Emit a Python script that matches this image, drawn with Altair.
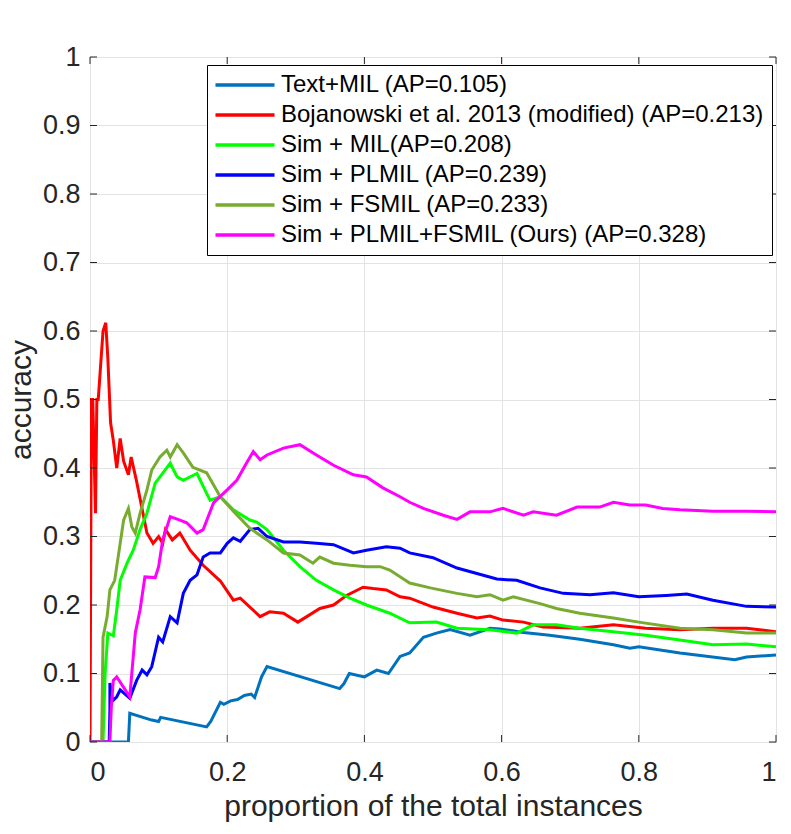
import altair as alt
import pandas as pd

LABELS = [
    "Text+MIL (AP=0.105)",
    "Bojanowski et al. 2013 (modified) (AP=0.213)",
    "Sim + MIL(AP=0.208)",
    "Sim + PLMIL (AP=0.239)",
    "Sim + FSMIL (AP=0.233)",
    "Sim + PLMIL+FSMIL (Ours) (AP=0.328)",
]
COLORS = ["#0072BD", "#FF0000", "#00FF00", "#0000FF", "#77AC30", "#FF00FF"]

text_x = [0, 0.056, 0.058, 0.09, 0.1, 0.103, 0.17, 0.176, 0.19, 0.195, 0.205, 0.215, 0.225, 0.235, 0.24, 0.25, 0.258,
          0.364, 0.37, 0.378, 0.40, 0.418, 0.435, 0.452, 0.466, 0.486, 0.505, 0.525, 0.554, 0.583, 0.598, 0.632, 0.67,
          0.714, 0.763, 0.787, 0.80, 0.86, 0.94, 0.957, 1.0]
text_y = [0, 0, 0.042, 0.032, 0.03, 0.036, 0.022, 0.03, 0.058, 0.055, 0.06, 0.062, 0.068, 0.07, 0.065, 0.095, 0.11,
          0.078, 0.085, 0.1, 0.095, 0.105, 0.1, 0.125, 0.13, 0.153, 0.159, 0.164, 0.156, 0.166, 0.165, 0.16, 0.156,
          0.15, 0.142, 0.137, 0.139, 0.13, 0.12, 0.124, 0.127]

boj_x = [0, 0.002, 0.004, 0.008, 0.010, 0.012, 0.015, 0.019, 0.023, 0.026, 0.03, 0.034, 0.039, 0.044, 0.049, 0.056,
         0.06, 0.068, 0.083, 0.092, 0.1, 0.106, 0.11, 0.12, 0.131, 0.146, 0.165, 0.19, 0.209, 0.219, 0.248, 0.262,
         0.282, 0.303, 0.316, 0.335, 0.355, 0.374, 0.398, 0.413, 0.432, 0.452, 0.466, 0.5, 0.535, 0.564, 0.583,
         0.602, 0.632, 0.66, 0.714, 0.763, 0.81, 0.86, 0.908, 0.957, 1.0]
boj_y = [0, 0.5, 0.5, 0.334, 0.5, 0.5, 0.543, 0.6, 0.612, 0.56, 0.466, 0.44, 0.40, 0.443, 0.41, 0.39,
         0.416, 0.38, 0.305, 0.29, 0.30, 0.29, 0.31, 0.295, 0.305, 0.28, 0.258, 0.235, 0.207, 0.21, 0.183, 0.19,
         0.188, 0.175, 0.183, 0.195, 0.2, 0.214, 0.226, 0.224, 0.222, 0.212, 0.21, 0.197, 0.188, 0.181, 0.184,
         0.178, 0.175, 0.168, 0.166, 0.171, 0.166, 0.164, 0.166, 0.166, 0.161]

mil_x = [0, 0.019, 0.022, 0.026, 0.034, 0.039, 0.044, 0.054, 0.063, 0.073, 0.083, 0.095, 0.102, 0.117, 0.127, 0.136,
         0.156, 0.17, 0.175, 0.19, 0.209, 0.233, 0.243, 0.258, 0.282, 0.306, 0.33, 0.355, 0.379, 0.403, 0.437,
         0.466, 0.505, 0.535, 0.583, 0.622, 0.646, 0.68, 0.714, 0.763, 0.81, 0.86, 0.908, 0.957, 1.0]
mil_y = [0, 0, 0.1, 0.159, 0.155, 0.193, 0.236, 0.261, 0.28, 0.31, 0.334, 0.378, 0.387, 0.407, 0.387, 0.382,
         0.392, 0.363, 0.353, 0.358, 0.339, 0.324, 0.321, 0.31, 0.28, 0.256, 0.236, 0.222, 0.21, 0.2, 0.188,
         0.174, 0.175, 0.166, 0.164, 0.159, 0.171, 0.171, 0.166, 0.161, 0.156, 0.149, 0.142, 0.143, 0.139]

plmil_x = [0, 0.028, 0.029, 0.029, 0.033, 0.039, 0.044, 0.058, 0.068, 0.076, 0.083, 0.09, 0.1, 0.106, 0.117, 0.127,
           0.136, 0.146, 0.156, 0.165, 0.175, 0.19, 0.2, 0.209, 0.219, 0.233, 0.245, 0.258, 0.282, 0.306, 0.33,
           0.355, 0.384, 0.403, 0.432, 0.452, 0.466, 0.5, 0.535, 0.564, 0.593, 0.622, 0.656, 0.69, 0.729, 0.763,
           0.80, 0.84, 0.87, 0.908, 0.957, 1.0]
plmil_y = [0, 0, 0.047, 0.086, 0.06, 0.066, 0.076, 0.064, 0.09, 0.105, 0.098, 0.11, 0.153, 0.146, 0.183, 0.174,
           0.217, 0.236, 0.244, 0.27, 0.276, 0.276, 0.29, 0.298, 0.293, 0.31, 0.312, 0.3, 0.292, 0.292, 0.29,
           0.288, 0.276, 0.28, 0.285, 0.283, 0.276, 0.269, 0.254, 0.246, 0.238, 0.236, 0.225, 0.217, 0.215, 0.218,
           0.212, 0.214, 0.216, 0.207, 0.198, 0.197]

fsmil_x = [0, 0.017, 0.019, 0.025, 0.029, 0.036, 0.044, 0.049, 0.056, 0.061, 0.066, 0.073, 0.083, 0.09, 0.102, 0.112,
           0.117, 0.127, 0.136, 0.15, 0.17, 0.19, 0.209, 0.233, 0.258, 0.282, 0.306, 0.325, 0.335, 0.355, 0.379,
           0.403, 0.423, 0.437, 0.466, 0.496, 0.535, 0.564, 0.583, 0.602, 0.617, 0.656, 0.68, 0.714, 0.763, 0.80,
           0.86, 0.908, 0.957, 1.0]
fsmil_y = [0, 0, 0.153, 0.183, 0.222, 0.236, 0.29, 0.324, 0.341, 0.314, 0.305, 0.334, 0.368, 0.397, 0.416, 0.426,
           0.416, 0.434, 0.422, 0.401, 0.393, 0.358, 0.337, 0.312, 0.295, 0.276, 0.273, 0.261, 0.27, 0.261, 0.258,
           0.256, 0.256, 0.251, 0.232, 0.225, 0.217, 0.212, 0.215, 0.207, 0.212, 0.202, 0.195, 0.188, 0.181, 0.175,
           0.166, 0.164, 0.159, 0.159]

ours_x = [0, 0.029, 0.031, 0.034, 0.039, 0.058, 0.066, 0.073, 0.08, 0.095, 0.1, 0.106, 0.117, 0.131, 0.141, 0.156,
          0.165, 0.18, 0.2, 0.214, 0.228, 0.238, 0.248, 0.258, 0.282, 0.306, 0.33, 0.355, 0.384, 0.403, 0.427,
          0.452, 0.466, 0.486, 0.515, 0.535, 0.554, 0.583, 0.602, 0.632, 0.646, 0.68, 0.71, 0.743, 0.763, 0.787,
          0.81, 0.835, 0.86, 0.908, 0.957, 1.0]
ours_y = [0, 0, 0.05, 0.09, 0.095, 0.066, 0.159, 0.193, 0.241, 0.24, 0.256, 0.295, 0.329, 0.324, 0.32, 0.305,
          0.31, 0.349, 0.368, 0.382, 0.407, 0.424, 0.412, 0.419, 0.429, 0.434, 0.419, 0.404, 0.39, 0.387, 0.371,
          0.358, 0.35, 0.341, 0.331, 0.325, 0.336, 0.336, 0.341, 0.331, 0.336, 0.331, 0.343, 0.343, 0.35, 0.346,
          0.346, 0.341, 0.339, 0.337, 0.337, 0.336]

X_TICKS = [0, 0.2, 0.4, 0.6, 0.8, 1]
Y_TICKS = [0, 0.1, 0.2, 0.3, 0.4, 0.5, 0.6, 0.7, 0.8, 0.9, 1]

series = [(text_x, text_y), (boj_x, boj_y), (mil_x, mil_y), (plmil_x, plmil_y), (fsmil_x, fsmil_y), (ours_x, ours_y)]
rows = []
for si, (lab, (xs, ys)) in enumerate(zip(LABELS, series)):
    for i, (xv, yv) in enumerate(zip(xs, ys)):
        rows.append({"series": lab, "s": si, "i": i, "x": xv, "y": yv})
df = pd.DataFrame(rows)

W, H = 686, 685
FONT = "Liberation Sans"
TXT = "#262626"

xscale = alt.Scale(domain=[0, 1], nice=False, zero=False)
yscale = alt.Scale(domain=[0, 1], nice=False, zero=False)

lines = alt.Chart(df).mark_line(strokeWidth=3, clip=True).encode(
    x=alt.X("x:Q", scale=xscale,
            axis=alt.Axis(values=X_TICKS, format="~g", grid=True, gridColor="#E3E3E3", gridWidth=1,
                          domain=False, ticks=False, labelFontSize=27, labelPadding=17, labelColor=TXT,
                          labelFont=FONT, title="proportion of the total instances", titleFontSize=30,
                          titleFont=FONT, titleFontWeight="normal", titleColor=TXT, titlePadding=6)),
    y=alt.Y("y:Q", scale=yscale,
            axis=alt.Axis(values=Y_TICKS, format="~g", grid=True, gridColor="#E3E3E3", gridWidth=1,
                          domain=False, ticks=False, labelFontSize=27, labelPadding=10, labelColor=TXT,
                          labelFont=FONT, title="accuracy", titleFontSize=30, titleFont=FONT,
                          titleFontWeight="normal", titleColor=TXT, titlePadding=6)),
    color=alt.Color("series:N", scale=alt.Scale(domain=LABELS, range=COLORS),
                    legend=alt.Legend(title=None, orient="none", legendX=117, legendY=8,
                                      symbolType="M-4,0H4", symbolSize=218, symbolStrokeWidth=3.5,
                                      symbolOffset=18,
                                      labelFontSize=24, labelFont=FONT, labelColor="#000000",
                                      labelLimit=700, labelOffset=24, rowPadding=6,
                                      strokeColor="#000000", fillColor="#FFFFFF", padding=8,
                                      direction="vertical")),
    detail="series:N",
    order="i:Q",
)

xt = pd.DataFrame({"v": X_TICKS})
yt = pd.DataFrame({"v": Y_TICKS})
TL = 7
tick_style = dict(color=TXT, strokeWidth=1)
bx = alt.Chart(xt).mark_rule(**tick_style).encode(x=alt.X("v:Q", scale=xscale), y=alt.value(H), y2=alt.value(H - TL))
tx = alt.Chart(xt).mark_rule(**tick_style).encode(x=alt.X("v:Q", scale=xscale), y=alt.value(0), y2=alt.value(TL))
ly = alt.Chart(yt).mark_rule(**tick_style).encode(y=alt.Y("v:Q", scale=yscale), x=alt.value(0), x2=alt.value(TL))
ry = alt.Chart(yt).mark_rule(**tick_style).encode(y=alt.Y("v:Q", scale=yscale), x=alt.value(W), x2=alt.value(W - TL))

chart = alt.layer(lines, bx, tx, ly, ry).properties(
    width=W, height=H,
    autosize=alt.AutoSizeParams(type="none"),
    padding={"left": 82, "top": 49, "right": 4, "bottom": 84},
).configure_view(stroke=TXT, strokeWidth=1).configure(background="white")

chart.save("out.html", embed_options={"renderer": "svg", "actions": False})
